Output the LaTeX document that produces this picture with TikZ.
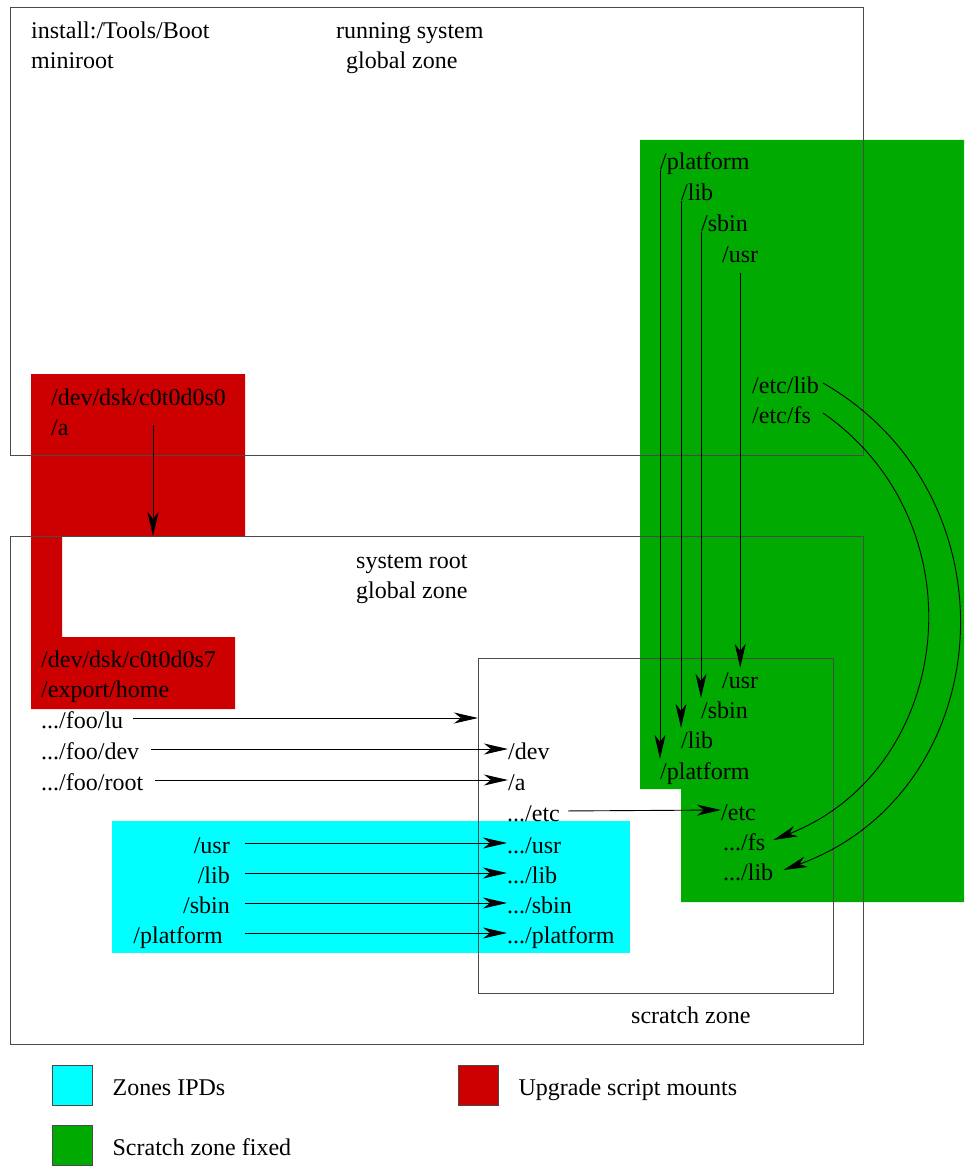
\documentclass[tikz,border=0pt]{standalone}
\usepackage{fontspec}
\setmainfont{Liberation Serif}
\usepackage{tikz}
\usetikzlibrary{arrows.meta,positioning}
\definecolor{luink}   {HTML}{000000}
\definecolor{luframe} {HTML}{4A4A4A}
\definecolor{luipd}   {HTML}{00FFFF}
\definecolor{lufixed} {HTML}{00AA00}
\definecolor{lumount} {HTML}{CC0000}
\tikzset{
  lutext/.style={inner sep=0pt, text height=20pt, text depth=0pt, anchor=base west,
                 font=\fontsize{24}{30}\selectfont},
  lutextr/.style={lutext, anchor=base east},
  luzone/.style={draw=luframe, line width=1pt, inner sep=0pt, outer sep=0pt,
                 anchor=north west},
  luarrow/.style={-{Stealth[length=24pt,width=11pt,inset=7pt]}, draw=luink,
                  line width=0.9pt},
  lukey/.style={draw=luframe, line width=0.8pt, minimum width=40pt,
                minimum height=40pt, inner sep=0pt},
}

\begin{document}
\begin{tikzpicture}[x=1pt,y=-1pt]
  \useasboundingbox (0,0) rectangle (964,1166);
  % shaded areas
  \fill[lufixed] (640,140) -- (964,140) -- (964,902) -- (681,902) -- (681,789)
                 -- (640,789) -- cycle;
  \fill[lumount] (31,374) -- (245,374) -- (245,536) -- (62,536) -- (62,637)
                 -- (235,637) -- (235,709) -- (31,709) -- cycle;
  \fill[luipd] (112,821) rectangle (630,953);
  % zones
  \node[luzone, minimum width=853pt, minimum height=447pt] (runbox) at (10,8) {};
  \node[luzone, minimum width=853pt, minimum height=508pt] (rootbox) at (10,536) {};
  \node[luzone, minimum width=355pt, minimum height=335pt] (scratchbox) at (478,658) {};

  \node[lutext] (bootlabel) at (31,39) {install:/Tools/Boot};
  \node[lutext] (minilabel) at (31,69) {miniroot};
  \node[lutext] (runlabel) at (336,39) {running system};
  \node[lutext] (rungz) at (346,69) {global zone};
  \node[lutext] (rootlabel) at (356,568) {system root};
  \node[lutext] (rootgz) at (356,598) {global zone};
  \node[lutext] (scratchlabel) at (631,1023) {scratch zone};

  % upgrade script mounts
  \node[lutext] (s0dev) at (51,405) {/dev/dsk/c0t0d0s0};
  \node[lutext] (s0mnt) at (51,435) {/a};
  \node[lutext] (s7dev) at (41,667) {/dev/dsk/c0t0d0s7};
  \node[lutext] (s7mnt) at (41,697) {/export/home};
  \coordinate (mountsrc) at (153,425);
  \draw[luarrow] (mountsrc) -- (mountsrc |- rootbox.north);

  % loopback mounts into the scratch zone
  \node[lutext] (foolu) at (41,728) {.../foo/lu};
  \node[lutext] (foodev) at (41,759) {.../foo/dev};
  \node[lutext] (fooroot) at (41,790) {.../foo/root};
  \node[lutext] (sdev) at (508,759) {/dev};
  \node[lutext] (sa) at (508,790) {/a};
  \node[lutext] (setc) at (507,821) {.../etc};
  \draw[luarrow, shorten <=10pt] (foolu.east) -- (foolu.east -| scratchbox.west);
  \foreach \a/\b in {foodev/sdev, fooroot/sa}
    \draw[luarrow, shorten <=12pt] (\a.east) -- (\b.west);

  % zones IPDs
  \node[lutextr] (iusr) at (230,853) {/usr};
  \node[lutextr] (ilib) at (230,883) {/lib};
  \node[lutextr] (isbin) at (230,913) {/sbin};
  \node[lutextr] (iplat) at (223,943) {/platform};
  \node[lutext] (susr) at (507,853) {.../usr};
  \node[lutext] (slib) at (507,883) {.../lib};
  \node[lutext] (ssbin) at (507,913) {.../sbin};
  \node[lutext] (splat) at (507,943) {.../platform};
  \foreach \a/\b in {iusr/susr, ilib/slib, isbin/ssbin}
    \draw[luarrow, shorten <=15pt] (\a.east) -- (\b.west);
  \draw[luarrow, shorten <=22pt] (iplat.east) -- (splat.west);

  % scratch zone fixed
  \node[lutext] (gplat) at (660,170) {/platform};
  \node[lutext] (glib) at (681,201) {/lib};
  \node[lutext] (gsbin) at (701,232) {/sbin};
  \node[lutext] (gusr) at (722,262) {/usr};
  \node[lutext] (etclib) at (752,393) {/etc/lib};
  \node[lutext] (etcfs) at (752,423) {/etc/fs};
  \node[lutext] (fusr) at (722,688) {/usr};
  \node[lutext] (fsbin) at (701,718) {/sbin};
  \node[lutext] (flib) at (681,748) {/lib};
  \node[lutext] (fplat) at (660,779) {/platform};
  \node[lutext] (fetc) at (721,820) {/etc};
  \node[lutext] (ffs) at (723,850) {.../fs};
  \node[lutext] (fetclib) at (723,880) {.../lib};
  \foreach \a/\b in {gplat/fplat, glib/flib, gsbin/fsbin}
    \draw[luarrow] (\a.south west) -- (\b.north west);
  \draw[luarrow, shorten <=11pt] (gusr.south) -- (fusr.north);
  \draw[luarrow, shorten <=8pt] (setc.east) -- (fetc.west);
  \draw[luarrow] ([xshift=4pt]etclib.east) .. controls +(198,114) and +(215,-78)
    .. ([xshift=10pt]fetclib.east);
  \draw[luarrow] ([xshift=12pt]etcfs.east) .. controls +(159,111) and +(181,-71)
    .. ([xshift=8pt]ffs.east);

  % key
  \node[lukey, fill=luipd] (keyipd) at (72,1085) {};
  \node[lutext, right=20pt of keyipd] (keyipdtext) {Zones IPDs};
  \node[lukey, fill=lumount] (keymount) at (478,1085) {};
  \node[lutext, right=20pt of keymount] (keymounttext) {Upgrade script mounts};
  \node[lukey, fill=lufixed] (keyfixed) at (72,1145) {};
  \node[lutext, right=20pt of keyfixed] (keyfixedtext) {Scratch zone fixed};
\end{tikzpicture}
\end{document}
